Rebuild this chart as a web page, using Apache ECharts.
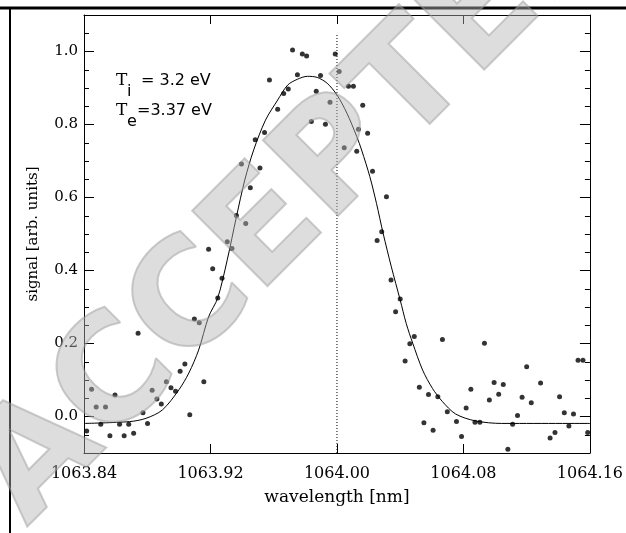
<!DOCTYPE html>
<html>
<head>
<meta charset="utf-8">
<script src="https://cdn.jsdelivr.net/npm/echarts@6/dist/echarts.min.js"></script>
<style>
html, body { margin: 0; padding: 0; background: #fff; }
#chart { width: 626px; height: 533px; }
</style>
</head>
<body>
<div id="chart"></div>
<script>
// measured spectrum (wavelength in nm, signal in arb. units)
const dotWavelength = [
  1063.8417, 1063.8448, 1063.8477, 1063.8506, 1063.8536, 1063.8564, 1063.8596, 1063.8625,
  1063.8654, 1063.8683, 1063.8714, 1063.8742, 1063.8773, 1063.8802, 1063.8831, 1063.8861,
  1063.8889, 1063.8921, 1063.8950, 1063.8979, 1063.9008, 1063.9038, 1063.9069, 1063.9098,
  1063.9129, 1063.9158, 1063.9188, 1063.9214, 1063.9246, 1063.9273, 1063.9306, 1063.9336,
  1063.9364, 1063.9396, 1063.9423, 1063.9452, 1063.9483, 1063.9513, 1063.9542, 1063.9573,
  1063.9625, 1063.9663, 1063.9692, 1063.9719, 1063.9750, 1063.9781, 1063.9808, 1063.9838,
  1063.9869, 1063.9896, 1063.9927, 1063.9956, 1063.9989, 1064.0014, 1064.0046, 1064.0073,
  1064.0104, 1064.0125, 1064.0136, 1064.0163, 1064.0194, 1064.0225, 1064.0254, 1064.0283,
  1064.0313, 1064.0342, 1064.0371, 1064.0400, 1064.0431, 1064.0461, 1064.0489, 1064.0521,
  1064.0550, 1064.0579, 1064.0608, 1064.0638, 1064.0667, 1064.0698, 1064.0756, 1064.0788,
  1064.0817, 1064.0847, 1064.0873, 1064.0904, 1064.0933, 1064.0964, 1064.0994, 1064.1023,
  1064.1052, 1064.1081, 1064.1111, 1064.1142, 1064.1171, 1064.1200, 1064.1229, 1064.1288,
  1064.1348, 1064.1379, 1064.1408, 1064.1438, 1064.1467, 1064.1496, 1064.1525, 1064.1556,
  1064.1586
];
const dotSignal = [
  -0.040, 0.075, 0.026, -0.021, 0.026, -0.053, 0.059, -0.021,
  -0.053, -0.021, -0.046, 0.228, 0.010, -0.019, 0.072, 0.048,
  0.034, 0.095, 0.079, 0.069, 0.124, 0.144, 0.005, 0.267,
  0.257, 0.095, 0.458, 0.405, 0.325, 0.379, 0.479, 0.460,
  0.551, 0.692, 0.529, 0.627, 0.758, 0.681, 0.778, 0.922,
  0.842, 0.885, 0.897, 1.004, 0.936, 0.993, 0.988, 0.808,
  0.891, 0.934, 0.801, 0.861, 0.993, 0.945, 0.736, 0.905,
  0.905, 0.727, 0.787, 0.853, 0.776, 0.672, 0.482, 0.506,
  0.602, 0.374, 0.287, 0.322, 0.152, 0.199, 0.219, 0.080,
  -0.017, 0.060, -0.038, 0.054, 0.211, 0.013, -0.014, -0.055,
  0.023, 0.075, -0.016, -0.016, 0.201, 0.045, 0.093, 0.061,
  0.088, -0.090, -0.021, 0.003, 0.053, 0.136, 0.038, 0.092,
  -0.059, -0.044, 0.054, 0.010, -0.026, 0.007, 0.154, 0.154,
  -0.044
];

// fitted spectrum
const fitWavelength = [
  1063.8400, 1063.8688, 1063.8792, 1063.8896, 1063.9000, 1063.9063, 1063.9125, 1063.9188,
  1063.9246, 1063.9306, 1063.9364, 1063.9417, 1063.9473, 1063.9548, 1063.9625, 1063.9688,
  1063.9750, 1063.9813, 1063.9875, 1063.9938, 1064.0000, 1064.0063, 1064.0125, 1064.0156,
  1064.0208, 1064.0250, 1064.0292, 1064.0344, 1064.0400, 1064.0438, 1064.0479, 1064.0542,
  1064.0604, 1064.0667, 1064.0750, 1064.0875, 1064.1042, 1064.1600
];
const fitSignal = [
  -0.019, -0.014, -0.005, 0.018, 0.073, 0.119, 0.182, 0.273,
  0.325, 0.429, 0.547, 0.648, 0.730, 0.812, 0.867, 0.908,
  0.924, 0.932, 0.929, 0.913, 0.881, 0.831, 0.767, 0.730,
  0.657, 0.584, 0.502, 0.410, 0.319, 0.255, 0.201, 0.127,
  0.077, 0.041, 0.007, -0.012, -0.019, -0.019
];

// dotted marker at the laser wavelength
const markerWavelength = [1064.00, 1064.00];
const markerSignal = [-0.1, 1.05];

const yMajorTicks = [0, 0.2, 0.4, 0.6, 0.8, 1.0];
const tempLines = [
  { name: 'T', sub: 'i', rest: '= 3.2 eV' },
  { name: 'T', sub: 'e', rest: '=3.37 eV' }
];

const serif = 'DejaVu Serif';
const sans = 'DejaVu Sans';

const chart = echarts.init(document.getElementById('chart'));

const xCommon = {
  type: 'value',
  min: 1063.84,
  max: 1064.16,
  interval: 0.08,
  splitLine: { show: false },
  axisLine: { onZero: false, lineStyle: { color: '#000', width: 1 } },
  axisTick: { inside: true, length: 9, lineStyle: { color: '#000' } }
};

function yAxisPair(position) {
  const isLeft = position === 'left';
  return [
    {
      type: 'value',
      position: position,
      min: -0.1,
      max: 1.1,
      splitLine: { show: false },
      axisLine: { show: true, onZero: false, lineStyle: { color: '#000', width: 1 } },
      axisTick: { inside: true, length: 10, customValues: yMajorTicks, lineStyle: { color: '#000' } },
      axisLabel: {
        show: isLeft,
        customValues: yMajorTicks,
        formatter: v => v.toFixed(1),
        margin: 6,
        color: '#000',
        fontFamily: serif,
        fontSize: 15
      },
      name: isLeft ? 'signal [arb. units]' : '',
      nameLocation: 'middle',
      nameGap: 43,
      nameTextStyle: { color: '#000', fontFamily: serif, fontSize: 15 }
    },
    {
      type: 'value',
      position: position,
      min: -0.1,
      max: 1.1,
      interval: 0.05,
      splitLine: { show: false },
      axisLine: { show: false, onZero: false },
      axisTick: { inside: true, length: 5, lineStyle: { color: '#000' } },
      axisLabel: { show: false }
    }
  ];
}

// temperature annotation pieces
const annotation = [];
tempLines.forEach((t, i) => {
  const y = 81 + i * 30;
  annotation.push(
    { type: 'text', x: 116, y: y, style: { text: t.name, font: '17px ' + serif, fill: '#000', verticalAlign: 'middle' } },
    { type: 'text', x: 127, y: y + 11, style: { text: t.sub, font: '16px ' + sans, fill: '#000', verticalAlign: 'middle' } },
    { type: 'text', x: i === 0 ? 141 : 137, y: y, style: { text: t.rest, font: '16px ' + sans, fill: '#000', verticalAlign: 'middle' } }
  );
});

const option = {
  backgroundColor: '#fff',
  animation: false,
  grid: { left: 84, right: 31, top: 15, bottom: 80 },
  xAxis: [
    Object.assign({}, xCommon, {
      position: 'bottom',
      axisLabel: {
        formatter: v => v.toFixed(2),
        margin: 13,
        color: '#000',
        fontFamily: serif,
        fontSize: 16,
        showMinLabel: true,
        showMaxLabel: true
      },
      name: 'wavelength [nm]',
      nameLocation: 'middle',
      nameGap: 36,
      nameTextStyle: { color: '#000', fontFamily: serif, fontSize: 17 }
    }),
    Object.assign({}, xCommon, { position: 'top', axisLabel: { show: false } })
  ],
  yAxis: yAxisPair('left').concat(yAxisPair('right')),
  series: [
    {
      type: 'line',
      data: markerWavelength.map((w, i) => [w, markerSignal[i]]),
      symbol: 'none',
      lineStyle: { color: '#000', width: 1, type: [1, 2] },
      silent: true
    },
    {
      type: 'line',
      data: fitWavelength.map((w, i) => [w, fitSignal[i]]),
      symbol: 'none',
      smooth: 0.3,
      lineStyle: { color: '#000', width: 1 },
      silent: true
    },
    {
      type: 'scatter',
      data: dotWavelength.map((w, i) => [w, dotSignal[i]]),
      symbol: 'circle',
      symbolSize: 5,
      itemStyle: { color: '#000' }
    }
  ],
  graphic: annotation.concat([
    // page border
    { type: 'line', shape: { x1: 0, y1: 8, x2: 626, y2: 8 }, style: { stroke: '#000', lineWidth: 3 }, z: 50 },
    { type: 'line', shape: { x1: 10, y1: 8, x2: 10, y2: 533 }, style: { stroke: '#000', lineWidth: 2 }, z: 50 },
    // manuscript watermark
    {
      type: 'text',
      x: 302,
      y: 198,
      rotation: Math.PI / 4,
      z: 100,
      silent: true,
      style: {
        text: 'ACCEPTED',
        font: 'bold 146px ' + sans,
        fill: '#b4b4b4',
        stroke: '#8c8c8c',
        lineWidth: 2,
        opacity: 0.45,
        align: 'center',
        verticalAlign: 'middle'
      }
    }
  ])
};

chart.setOption(option);
</script>
</body>
</html>
